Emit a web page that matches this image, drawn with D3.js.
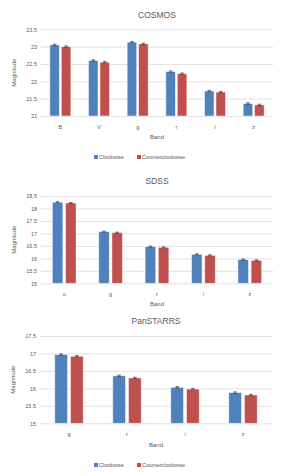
<!DOCTYPE html>
<html><head><meta charset="utf-8">
<script src="https://cdn.jsdelivr.net/npm/d3@7"></script>
<style>
body{margin:0;background:#fff;}
svg{display:block;font-family:"Liberation Sans","DejaVu Sans",sans-serif;}
</style></head><body>
<svg id="c" width="282" height="476"></svg>
<script>
const seriesNames = ["Clockwise", "Counterclockwise"];
const colors = ["#4F81BD", "#C0504D"];

const cosmosBands = ["B", "V", "g", "r", "i", "z"];
const cosmosCW = [23.05, 22.60, 23.13, 22.28, 21.72, 21.36];
const cosmosCCW = [23.00, 22.55, 23.08, 22.22, 21.69, 21.32];
const cosmosErrCW = [0.02, 0.02, 0.02, 0.02, 0.02, 0.02];
const cosmosErrCCW = [0.02, 0.02, 0.02, 0.02, 0.02, 0.02];
const cosmosTicks = [21, 21.5, 22, 22.5, 23, 23.5];

const sdssBands = ["u", "g", "r", "i", "z"];
const sdssCW = [18.25, 17.07, 16.47, 16.16, 15.95];
const sdssCCW = [18.22, 17.03, 16.44, 16.12, 15.92];
const sdssErrCW = [0.02, 0.02, 0.02, 0.02, 0.02];
const sdssErrCCW = [0.02, 0.02, 0.02, 0.02, 0.02];
const sdssTicks = [15, 15.5, 16, 16.5, 17, 17.5, 18, 18.5];

const panBands = ["g", "r", "i", "z"];
const panCW = [16.97, 16.36, 16.03, 15.88];
const panCCW = [16.92, 16.30, 15.98, 15.81];
const panErrCW = [0.02, 0.02, 0.02, 0.02];
const panErrCCW = [0.02, 0.02, 0.02, 0.02];
const panTicks = [15, 15.5, 16, 16.5, 17, 17.5];

const svg = d3.select("#c");

function chart(opt) {
  const g = svg.append("g");
  const x = d3.scaleBand().domain(opt.bands).range([opt.x0, opt.x1]).paddingInner(0).paddingOuter(0);
  const y = d3.scaleLinear().domain([opt.ticks[0], opt.ticks[opt.ticks.length - 1]]).range([opt.yb, opt.yt]);
  const x2 = d3.scaleBand().domain([0, 1]).range([0, x.bandwidth()]).paddingInner(opt.inner).paddingOuter(opt.outer);

  g.append("text").attr("x", (opt.x0 + opt.x1) / 2).attr("y", opt.titleY)
    .attr("text-anchor", "middle").attr("font-size", 8.5).attr("fill", "#595959")
    .text(opt.title);

  const ya = g.append("g").attr("transform", `translate(${opt.x0},0)`)
    .call(d3.axisLeft(y).tickValues(opt.ticks).tickSize(-(opt.x1 - opt.x0)).tickPadding(4).tickFormat(d => String(d)));
  ya.select(".domain").remove();
  ya.selectAll(".tick line").attr("stroke", "#d9d9d9").attr("stroke-width", 0.8);
  ya.selectAll(".tick text").attr("fill", "#595959").attr("font-size", 5.5);

  const xa = g.append("g").attr("transform", `translate(0,${opt.yb})`)
    .call(d3.axisBottom(x).tickSize(0).tickPadding(9));
  xa.select(".domain").remove();
  xa.selectAll(".tick text").attr("fill", "#595959").attr("font-size", 5.5);

  g.append("text").attr("x", (opt.x0 + opt.x1) / 2).attr("y", opt.bandY)
    .attr("text-anchor", "middle").attr("font-size", 6).attr("fill", "#595959").text("Band");
  g.append("text").attr("transform", `translate(${opt.magX},${(opt.yt + opt.yb) / 2}) rotate(-90)`)
    .attr("text-anchor", "middle").attr("font-size", 6).attr("fill", "#595959").text("Magnitude");

  const series = [opt.cw, opt.ccw];
  const errs = [opt.ecw, opt.eccw];
  series.forEach((vals, si) => {
    const bx = d => x(opt.bands[d]) + x2(si);
    g.selectAll(null).data(d3.range(vals.length)).enter().append("rect")
      .attr("x", i => bx(i)).attr("width", x2.bandwidth())
      .attr("y", i => y(vals[i])).attr("height", i => y(opt.ticks[0]) - y(vals[i]))
      .attr("fill", colors[si]).attr("stroke", "#ffffff").attr("stroke-opacity", 0.6).attr("stroke-width", 0.8);
    const cx = i => bx(i) + x2.bandwidth() / 2;
    const eg = g.selectAll(null).data(d3.range(vals.length)).enter().append("g");
    eg.append("line").attr("x1", cx).attr("x2", cx)
      .attr("y1", i => y(vals[i] + errs[si][i])).attr("y2", i => y(vals[i] - errs[si][i]))
      .attr("stroke", "#404040").attr("stroke-width", 0.7);
    [1, -1].forEach(sg => {
      eg.append("line").attr("x1", i => cx(i) - 1.8).attr("x2", i => cx(i) + 1.8)
        .attr("y1", i => y(vals[i] + sg * errs[si][i])).attr("y2", i => y(vals[i] + sg * errs[si][i]))
        .attr("stroke", "#404040").attr("stroke-width", 0.7);
    });
  });

  if (opt.legendY) {
    const lg = g.append("g");
    const items = [{ x: 94, tx: 99 }, { x: 137, tx: 142 }];
    items.forEach((it, i) => {
      lg.append("rect").attr("x", it.x).attr("y", opt.legendY - 4).attr("width", 4).attr("height", 4).attr("fill", colors[i]);
      lg.append("text").attr("x", it.tx).attr("y", opt.legendY).attr("font-size", 5.5).attr("fill", "#595959").text(seriesNames[i]);
    });
  }
}

chart({ title: "COSMOS", bands: cosmosBands, cw: cosmosCW, ccw: cosmosCCW, ecw: cosmosErrCW, eccw: cosmosErrCCW, ticks: cosmosTicks,
  x0: 41, x1: 273, yt: 29.3, yb: 116, titleY: 17.5, bandY: 139, magX: 16, legendY: 159, inner: 0.17, outer: 0.77 });
chart({ title: "SDSS", bands: sdssBands, cw: sdssCW, ccw: sdssCCW, ecw: sdssErrCW, eccw: sdssErrCCW, ticks: sdssTicks,
  x0: 41, x1: 273, yt: 196, yb: 283.3, titleY: 183.5, bandY: 306, magX: 16, legendY: null, inner: 0.2, outer: 0.86 });
chart({ title: "PanSTARRS", bands: panBands, cw: panCW, ccw: panCCW, ecw: panErrCW, eccw: panErrCCW, ticks: panTicks,
  x0: 40, x1: 272, yt: 336, yb: 423.3, titleY: 324, bandY: 447, magX: 15, legendY: 467, inner: 0.19, outer: 0.94 });
</script>
</body></html>
